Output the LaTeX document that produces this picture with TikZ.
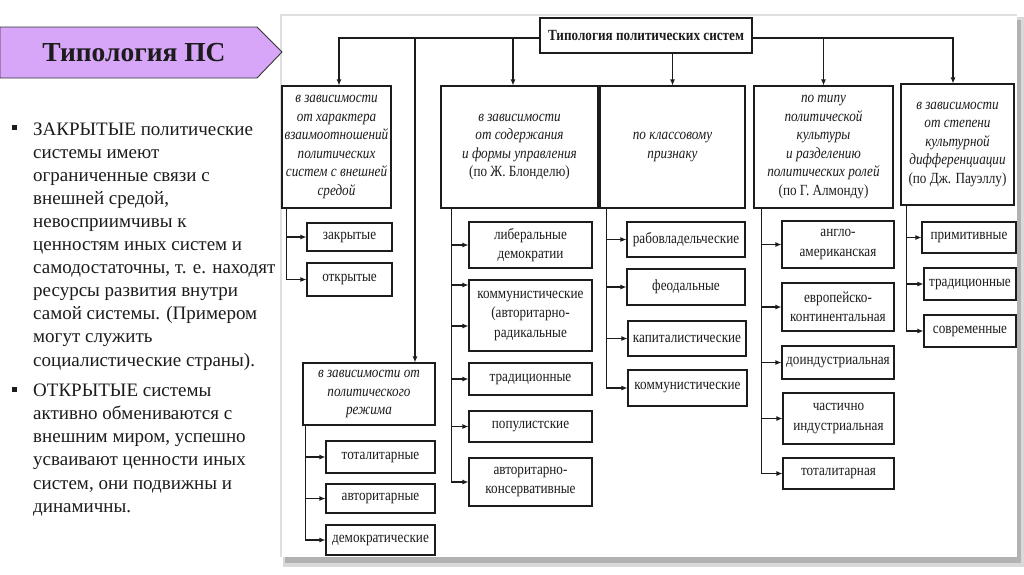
\documentclass[tikz,border=0pt]{standalone}
\usepackage{fontspec}
\setmainfont{Liberation Serif}
\newfontfamily\dg[FakeStretch=0.85]{Liberation Serif}
\usetikzlibrary{arrows.meta,calc}
\definecolor{banner}{RGB}{216,166,248}
\definecolor{ink}{RGB}{28,28,28}
\newcommand{\mkbox}[7]{\node[#1,minimum width={#5-#3},minimum height={#6-#4}] (#2) at ({(#3+#5)/2},{(#4+#6)/2}) {#7};}
\begin{document}
\begin{tikzpicture}[x=1pt,y=-1pt,
  box/.style={draw=ink,line width=1.1pt,inner sep=1pt,align=center,text=ink,font=\dg\fontsize{15.5}{19.5}\selectfont},
  hbox/.style={box,font=\dg\itshape\fontsize{15.5}{18.5}\selectfont},
  tbox/.style={box,font=\dg\bfseries\fontsize{15.5}{17}\selectfont},
  arr/.style={draw=ink,line width=1.1pt,-{Latex[length=6pt,width=5pt]}},
  ln/.style={draw=ink,line width=1.1pt}]
\useasboundingbox (0,0) rectangle (1024,574);
\fill[white] (0,0) rectangle (1024,574);
% frame of the picture
\fill[gray!30] (283,17) rectangle (1024,567);
\fill[gray!60] (285,20) rectangle (1021,563);
\fill[white] (281,15) rectangle (1017,557);
\draw[gray!25,line width=1.5pt] (281,557) -- (281,15) -- (1017,15);
% banner
\draw[fill=banner,draw=ink!90,line width=0.9pt] (0,27) -- (257,27) -- (282,52) -- (257,78) -- (0,78) -- cycle;
\node[font=\bfseries\fontsize{27.5}{30}\selectfont,text=ink] (bt) at (134,53) {Типология ПС};
% left text
\fill[ink] (12,125) rectangle (17,130);
\fill[ink] (12,387) rectangle (17,392);
\node[anchor=base west,align=left,inner sep=0,text=ink,font=\fontsize{19}{23.1}\selectfont] (p1) at (33,366) {ЗАКРЫТЫЕ политические\\системы имеют\\ограниченные связи с\\внешней средой,\\невосприимчивы к\\ценностям иных систем и\\самодостаточны, т. е. находят\\ресурсы развития внутри\\самой системы. (Примером\\могут служить\\социалистические страны).};
\node[anchor=base west,align=left,inner sep=0,text=ink,font=\fontsize{19}{23.3}\selectfont] (p2) at (33,512.5) {ОТКРЫТЫЕ системы\\активно обмениваются с\\внешним миром, успешно\\усваивают ценности иных\\систем, они подвижны и\\динамичны.};
% diagram
\mkbox{tbox}{title}{540}{18}{752}{53}{Типология политических систем}
\mkbox{hbox}{b1}{282}{86}{391}{208}{в зависимости\\от характера\\взаимоотношений\\политических\\систем с внешней\\средой}
\mkbox{hbox}{b2}{441}{86}{598}{208}{в зависимости\\от содержания\\и формы управления\\\upshape(по Ж. Блонделю)}
\mkbox{hbox}{b4}{600}{86}{745}{208}{по классовому\\признаку}
\mkbox{hbox}{b5}{754}{86}{893}{208}{по типу\\политической\\культуры\\и разделению\\политических ролей\\\upshape(по Г. Алмонду)}
\mkbox{hbox}{b6}{901}{84}{1014}{205}{в зависимости\\от степени\\культурной\\дифференциации\\\upshape(по Дж. Пауэллу)}
\mkbox{hbox}{reg}{303}{363}{435}{425}{в зависимости от\\политического\\режима}
% children
\mkbox{box}{c11}{307}{223}{392}{251}{закрытые}
\mkbox{box}{c12}{307}{263}{392}{296}{открытые}
\mkbox{box}{c21}{469}{222}{592}{268}{либеральные\\демократии}
\mkbox{box}{c22}{469}{280}{592}{351}{коммунистические\\(авторитарно-\\радикальные}
\mkbox{box}{c23}{469}{363}{592}{395}{традиционные}
\mkbox{box}{c24}{469}{411}{592}{442}{популистские}
\mkbox{box}{c25}{469}{458}{592}{506}{авторитарно-\\консервативные}
\mkbox{box}{r1}{326}{441}{435}{473}{тоталитарные}
\mkbox{box}{r2}{326}{484}{435}{513}{авторитарные}
\mkbox{box}{r3}{326}{525}{435}{555}{демократические}
\mkbox{box}{c41}{627}{222}{745}{257}{рабовладельческие}
\mkbox{box}{c42}{627}{269}{745}{305}{феодальные}
\mkbox{box}{c43}{628}{321}{746}{356}{капиталистические}
\mkbox{box}{c44}{628}{370}{747}{406}{коммунистические}
\mkbox{box}{c51}{782}{221}{894}{268}{англо-\\американская}
\mkbox{box}{c52}{782}{283}{894}{331}{европейско-\\континентальная}
\mkbox{box}{c53}{782}{346}{894}{379}{доиндустриальная}
\mkbox{box}{c54}{783}{393}{894}{444}{частично\\индустриальная}
\mkbox{box}{c55}{783}{458}{894}{489}{тоталитарная}
\mkbox{box}{c61}{922}{222}{1016}{253}{примитивные}
\mkbox{box}{c62}{924}{268}{1016}{300}{традиционные}
\mkbox{box}{c63}{924}{315}{1016}{347}{современные}
% top connectors
\coordinate (hl) at ([yshift=-2.5pt]title.west);
\coordinate (hr) at ([yshift=-2.5pt]title.east);
\draw[arr] (hl) -| ([xshift=2.5]b1.north);
\draw[arr] ([xshift=46]reg.north |- hl) -- ([xshift=46]reg.north);
\draw[arr] ([xshift=-6.5]b2.north |- hl) -- ([xshift=-6.5]b2.north);
\draw[arr] (b4.north |- title.south) -- (b4.north);
\draw[arr] (hr) -| ([xshift=-4.5]b6.north);
\draw[arr] (b5.north |- hr) -- (b5.north);
% child connectors
\foreach \c in {c11,c12} \draw[arr] ([xshift=5]b1.south west) |- (\c.west);
\draw[arr] ([xshift=11]b2.south west) |- (c21.west);
\draw[arr] ([xshift=11]b2.south west) |- ([yshift=30.5]c22.west);
\draw[arr] ([xshift=11]b2.south west) |- ([yshift=-10.5]c22.west);
\foreach \c in {c23,c24,c25} \draw[arr] ([xshift=11]b2.south west) |- (\c.west);
\foreach \c in {r1,r2,r3} \draw[arr] ([xshift=3]reg.south west) |- (\c.west);
\foreach \c in {c41,c42,c43,c44} \draw[arr] ([xshift=7]b4.south west) |- (\c.west);
\foreach \c in {c51,c52,c53,c54,c55} \draw[arr] ([xshift=8]b5.south west) |- (\c.west);
\foreach \c in {c61,c62,c63} \draw[arr] ([xshift=6]b6.south west) |- (\c.west);
\end{tikzpicture}
\end{document}
